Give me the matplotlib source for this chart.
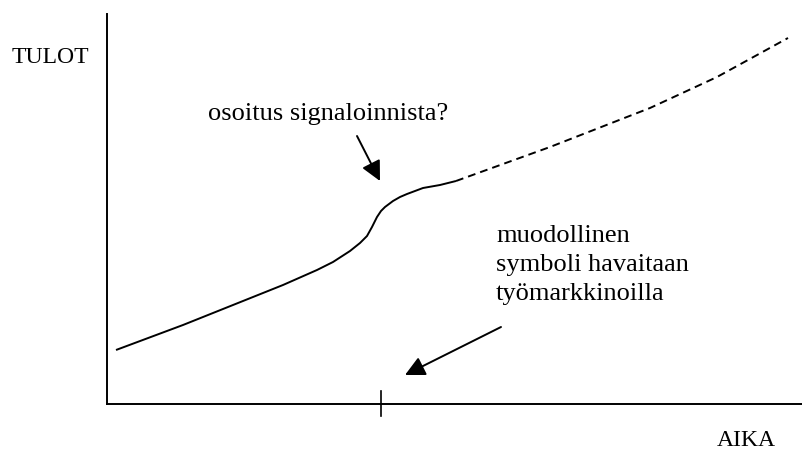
#!/usr/bin/env python3

import matplotlib
matplotlib.use("Agg")
import matplotlib.pyplot as plt

# schematic curve, arbitrary units (time, income)
aika_kiintea = [9, 76, 126, 176, 210, 226, 243, 253, 260, 265, 270, 274, 278, 282, 286, 293, 300, 316, 333, 349]
tulot_kiintea = [54, 79, 99, 119, 134, 142, 153, 161, 168, 177, 187, 193, 197, 200, 203, 207, 210, 216, 219, 223]
aika_ennuste = [349, 443, 543, 610, 681]
tulot_ennuste = [223, 257, 296, 327, 366]
signaali_aika = 274

y_label = "TULOT"
x_label = "AIKA"
huomio1 = "osoitus signaloinnista?"
huomio2 = ["muodollinen", "symboli havaitaan", "työmarkkinoilla"]


def main():
    plt.rcParams['font.family'] = ['Liberation Serif', 'DejaVu Serif']
    fig = plt.figure(figsize=(8.02, 4.53), dpi=100)
    ax = fig.add_axes([107/802, 49/453, 695/802, 390/453])
    ax.set_xlim(0, 695)
    ax.set_ylim(0, 390)
    for s in ["top", "right"]:
        ax.spines[s].set_visible(False)
    for s in ["left", "bottom"]:
        ax.spines[s].set_linewidth(1.4)
    ax.set_xticks([])
    ax.set_yticks([])

    ax.plot(aika_kiintea, tulot_kiintea, '-', c="black", lw=1.4,
            solid_joinstyle="round", solid_capstyle="butt")
    ax.plot(aika_ennuste, tulot_ennuste, '--', c="black", lw=1.4, dashes=(4, 2.6))
    ax.plot([signaali_aika, signaali_aika], [-12, 13], c="black", lw=1.2, clip_on=False)

    fs = 19
    ax.text(-95, 341, y_label, fontsize=17, ha="left", va="baseline")
    ax.text(610, -42, x_label, fontsize=17, ha="left", va="baseline")
    ax.text(101, 284, huomio1, fontsize=fs, ha="left", va="baseline")
    for i, rivi in enumerate(huomio2):
        ax.text(389, 162 - 29*i, rivi, fontsize=fs, ha="left", va="baseline")

    nuoli = dict(arrowstyle="-|>,head_length=0.6,head_width=0.3", mutation_scale=20,
                 color="black", lw=1.4, shrinkA=0, shrinkB=0)
    ax.annotate("", xy=(273, 223), xytext=(250, 268), arrowprops=nuoli)
    ax.annotate("", xy=(298, 29), xytext=(394, 77), arrowprops=nuoli)

    fig.savefig("out.png", dpi=100)


if __name__ == "__main__":
    main()
